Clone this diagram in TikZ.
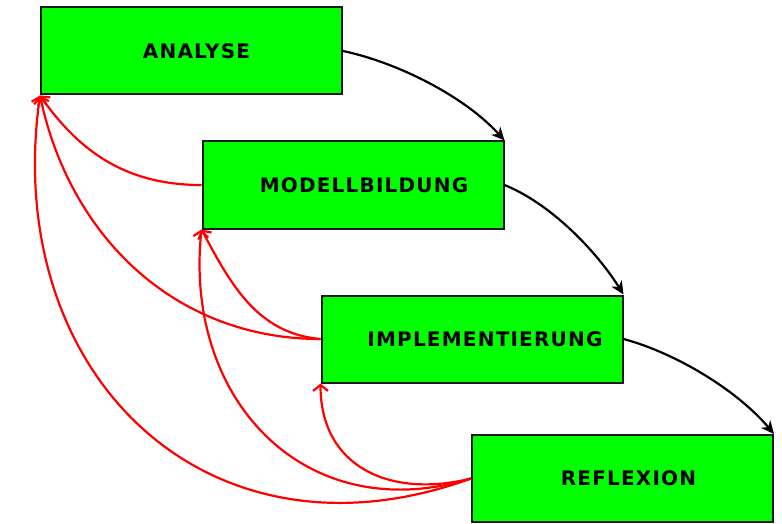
\documentclass[tikz,border=0pt]{standalone}
\usepackage{fontspec}
\newfontfamily\boxfont[LetterSpace=6]{DejaVu Sans}
\usetikzlibrary{arrows.meta}

\begin{document}
\begin{tikzpicture}
  [x=1pt,y=-1pt,
   phase/.style={draw=black!90,line width=2pt,fill=green,minimum width=301pt,
     minimum height=87pt,inner sep=0pt,font=\boxfont\bfseries\fontsize{20}{24}\selectfont},
   fwd/.style={line width=2.2pt,-{Stealth[length=13pt,width=12pt,inset=4pt]}},
   back/.style={red,line width=2.2pt,-{Straight Barb[length=6pt,width=15pt]}}]
  \useasboundingbox (0,0) rectangle (782,524);

  \node[phase] (ana) at (191.5,51) {\hspace*{10pt}ANALYSE};
  \node[phase] (mod) at (353,185) {\hspace*{22pt}MODELLBILDUNG};
  \node[phase] (imp) at (472,339) {\hspace*{26pt}IMPLEMENTIERUNG};
  \node[phase] (ref) at (622.5,478.5) {\hspace*{12pt}REFLEXION};

  \foreach \from/\to/\o/\i in {ana/mod/-12/132,mod/imp/-22/122,imp/ref/-15/130}
    \draw[fwd] (\from.east) to[out=\o,in=\i,looseness=.8] (\to.north east);

  \foreach \from/\to/\o/\i/\l in {mod/ana/180/-55/1,imp/ana/180/-78/1,imp/mod/175/-62/1,
      ref/ana/200/-98/1.25,ref/mod/197/-96/1.2,ref/imp/194/-90/1.2}
    \draw[back] (\from.west) to[out=\o,in=\i,looseness=\l] (\to.south west);

\end{tikzpicture}
\end{document}
